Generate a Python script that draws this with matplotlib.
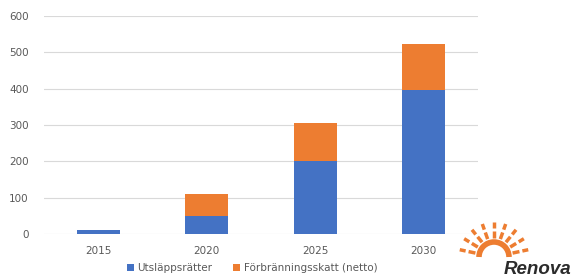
import matplotlib
matplotlib.use("Agg")
import matplotlib.pyplot as plt
from matplotlib.patches import Arc
import numpy as np

years = ["2015", "2020", "2025", "2030"]
utslapp = [10, 50, 200, 397]
forbranning = [0, 60, 105, 125]
yticks = [0, 100, 200, 300, 400, 500, 600]

blue = "#4472C4"
orange = "#ED7D31"
grey_txt = "#595959"

W, H = 572, 279
fig = plt.figure(figsize=(W / 100, H / 100), dpi=100)
ax = fig.add_axes([44 / W, 45 / H, 434 / W, 218 / H])

x = np.arange(len(years))
ax.bar(x, utslapp, width=0.4, color=blue, label="Utsläppsrätter", zorder=3)
ax.bar(x, forbranning, width=0.4, bottom=utslapp, color=orange,
       label="Förbränningsskatt (netto)", zorder=3)

ax.set_xlim(-0.5, 3.5)
ax.set_ylim(0, 600)
ax.set_yticks(yticks)
ax.set_xticks(x)
ax.set_xticklabels(years)
ax.grid(axis="y", color="#D9D9D9", linewidth=0.8, zorder=0)
for s in ax.spines.values():
    s.set_visible(False)
ax.tick_params(length=0, labelsize=7.5, labelcolor=grey_txt)
ax.tick_params(axis="y", pad=11)
ax.tick_params(axis="x", pad=9)

fig.legend(loc="center", bbox_to_anchor=(252 / W, 11 / H), ncol=2, frameon=False,
           fontsize=7.5, labelcolor=grey_txt, handlelength=0.7, handleheight=0.7,
           handletextpad=0.3, columnspacing=2.0)

# Renova logo
lax = fig.add_axes([455 / W, 0, 117 / W, 64 / H])
lax.set_xlim(455, 572)
lax.set_ylim(279, 215)
lax.axis("off")
cx, cy = 494, 257
lax.add_patch(Arc((cx, cy), 30, 30, theta1=180, theta2=360, color=orange, lw=4))
for ang in np.linspace(168, 12, 9):
    a = np.radians(ang)
    for r0, r1 in [(19, 26), (29, 35)]:
        lax.plot([cx + r0 * np.cos(a), cx + r1 * np.cos(a)],
                 [cy - r0 * np.sin(a), cy - r1 * np.sin(a)],
                 color=orange, lw=2.5, solid_capstyle="butt")
lax.text(571, 278.5, "Renova", fontsize=13.5, fontweight="bold", fontstyle="italic",
         family="Liberation Sans", color="#2b2b2b", ha="right", va="bottom")

fig.savefig("out.png", dpi=100)
